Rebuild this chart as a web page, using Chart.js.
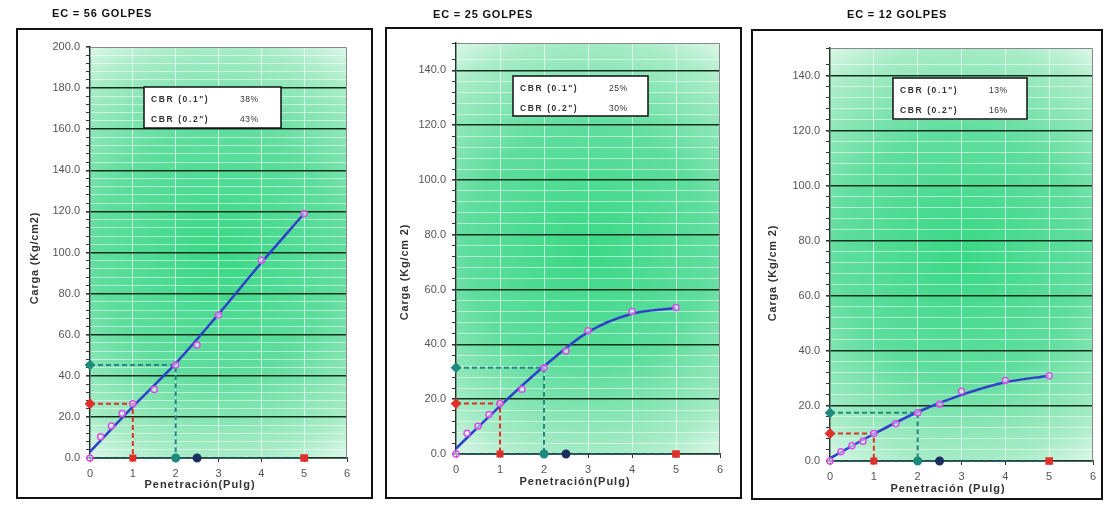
<!DOCTYPE html>
<html>
<head>
<meta charset="utf-8">
<script src="https://cdn.jsdelivr.net/npm/chart.js@4"></script>
<style>
    html, body { margin: 0; padding: 0; background: #fff; }
    #page { position: relative; width: 1104px; height: 506px; overflow: hidden; }
    #page canvas { position: absolute; left: 0; top: 0; }
</style>
</head>
<body>
<div id="page">
    <canvas id="c56" width="1104" height="506"></canvas>
    <canvas id="c25" width="1104" height="506"></canvas>
    <canvas id="c12" width="1104" height="506"></canvas>
</div>
<script>
// penetration readings (x 10 -> the axis shows tenths of an inch)
const penetration = [0, 0.25, 0.5, 0.75, 1, 1.5, 2, 2.5, 3, 4, 5];
const load56 = [0, 10.4, 15.6, 21.7, 26.4, 33.3, 45.3, 55.0, 69.6, 96.2, 119.0];
const load25 = [0, 7.6, 10.1, 14.4, 18.4, 23.6, 31.5, 37.6, 45.0, 52.0, 53.5];
const load12 = [0, 3.4, 5.5, 7.2, 10.0, 13.5, 17.5, 20.6, 25.3, 29.2, 31.0];

// trend line
const trendX = [0, 1, 2, 3, 4, 5];
const trend56 = [3, 25, 46, 70, 95, 119];
const trend25 = [2, 17.5, 32, 44.5, 51.2, 53.3];
const trend12 = [1, 9.8, 17.8, 24, 28.6, 31];

// CBR readings at 0.1" and 0.2"
const cbrPen = [1, 2];
const cbr01Load = [26.4, 18.4, 10.0];
const cbr02Load = [45.3, 31.5, 17.5];
const cbr01Text = ["38%", "25%", "13%"];
const cbr02Text = ["43%", "30%", "16%"];
const axisMarkX = [2.5, 5];

const panelTitles = ["EC = 56 GOLPES", "EC = 25 GOLPES", "EC = 12 GOLPES"];
const yTitles = ["Carga (Kg/cm2)", "Carga (Kg/cm 2)", "Carga (Kg/cm 2)"];
const xTitles = ["Penetración(Pulg)", "Penetración(Pulg)", "Penetración (Pulg)"];
const yMaxes = [200, 150, 150];
const xMax = 6;

// page layout, one entry per panel
const layouts = [
    { box: [17, 29, 355, 469], title: [52, 14], area: { l: 90, r: 347, t: 47, b: 458 },
      yTitle: [35, 258], xTitle: [200, 485], legend: [144, 87, 137, 41] },
    { box: [386, 28, 355, 470], title: [433, 15], area: { l: 456, r: 720, t: 43, b: 454 },
      yTitle: [405, 272], xTitle: [575, 482], legend: [513, 76, 135, 40] },
    { box: [752, 30, 350, 469], title: [847, 15], area: { l: 830, r: 1093, t: 48, b: 461 },
      yTitle: [773, 273], xTitle: [948, 489], legend: [893, 78, 134, 41] },
];

const FONT = "'Liberation Sans', Arial, sans-serif";

function pts(xs, ys) {
    return xs.map((x, i) => ({ x: x, y: ys[i] }));
}

const panelPlugin = {
    id: "panel",
    beforeDraw(chart) {
        const a = chart.chartArea;
        const ctx = chart.ctx;
        const cx = (a.left + a.right) / 2;
        const cy = (a.top + a.bottom) / 2;
        const rad = Math.hypot(a.right - a.left, a.bottom - a.top) / 2;
        const g = ctx.createRadialGradient(cx, cy, 0, cx, cy, rad);
        g.addColorStop(0, "#3ad886");
        g.addColorStop(0.5, "#5fdd9e");
        g.addColorStop(0.85, "#a8ecc7");
        g.addColorStop(1, "#dcf7e9");
        ctx.save();
        ctx.fillStyle = g;
        ctx.fillRect(a.left, a.top, a.right - a.left, a.bottom - a.top);
        ctx.restore();
    },
    beforeDatasetsDraw(chart) {
        const a = chart.chartArea;
        const ctx = chart.ctx;
        ctx.save();
        ctx.strokeStyle = "#8a8a8a";
        ctx.lineWidth = 1;
        ctx.beginPath();
        ctx.moveTo(a.left, a.top + 0.5);
        ctx.lineTo(a.right - 0.5, a.top + 0.5);
        ctx.lineTo(a.right - 0.5, a.bottom);
        ctx.stroke();
        ctx.restore();
    },
    afterDraw(chart, args, opts) {
        const L = layouts[opts.index];
        const ctx = chart.ctx;
        ctx.save();
        // outer frame
        ctx.strokeStyle = "#111";
        ctx.lineWidth = 2;
        ctx.strokeRect(L.box[0], L.box[1], L.box[2], L.box[3]);

        ctx.fillStyle = "#111";
        ctx.textBaseline = "middle";
        ctx.font = "bold 11px " + FONT;
        ctx.letterSpacing = "0.8px";
        ctx.textAlign = "left";
        ctx.fillText(panelTitles[opts.index], L.title[0], L.title[1]);

        ctx.font = "bold 11px " + FONT;
        ctx.letterSpacing = "1px";
        ctx.fillStyle = "#333";
        ctx.textAlign = "center";
        ctx.fillText(xTitles[opts.index], L.xTitle[0], L.xTitle[1]);
        ctx.save();
        ctx.translate(L.yTitle[0], L.yTitle[1]);
        ctx.rotate(-Math.PI / 2);
        ctx.letterSpacing = "0.8px";
        ctx.fillText(yTitles[opts.index], 0, 0);
        ctx.restore();

        // CBR box
        const [lx, ly, lw, lh] = L.legend;
        ctx.fillStyle = "#fff";
        ctx.fillRect(lx, ly, lw, lh);
        ctx.strokeStyle = "#111";
        ctx.lineWidth = 1.5;
        ctx.strokeRect(lx, ly, lw, lh);
        ctx.fillStyle = "#333";
        ctx.textAlign = "left";
        ctx.font = "bold 8.5px " + FONT;
        ctx.letterSpacing = "1.6px";
        ctx.fillText('CBR (0.1")', lx + 7, ly + 13);
        ctx.fillText('CBR (0.2")', lx + 7, ly + 33);
        ctx.font = "8.5px " + FONT;
        ctx.letterSpacing = "0.5px";
        ctx.fillText(cbr01Text[opts.index], lx + 96, ly + 13);
        ctx.fillText(cbr02Text[opts.index], lx + 96, ly + 33);
        ctx.restore();
    },
};

function makePanel(canvasId, index, loads, trend) {
    const L = layouts[index];
    const yMax = yMaxes[index];
    const v1 = cbr01Load[index];
    const v2 = cbr02Load[index];

    return new Chart(document.getElementById(canvasId), {
        type: "scatter",
        data: {
            datasets: [
                {
                    data: pts(penetration, loads),
                    showLine: false,
                    pointStyle: "circle",
                    pointRadius: 3,
                    pointBorderWidth: 1.5,
                    borderColor: "#d84ee8",
                    backgroundColor: "rgba(255,255,255,0.5)",
                    clip: false,
                },
                {
                    data: pts(trendX, trend),
                    showLine: true,
                    borderColor: "#3040c8",
                    borderWidth: 2.5,
                    pointRadius: 0,
                    cubicInterpolationMode: "monotone",
                },
                {
                    data: [{ x: 0, y: v1 }, { x: cbrPen[0], y: v1 }, { x: cbrPen[0], y: 0 }],
                    showLine: true,
                    borderColor: "#e0302a",
                    borderWidth: 2,
                    borderDash: [5, 3],
                    pointRadius: [4, 0, 3.5],
                    pointStyle: ["rectRot", "circle", "rect"],
                    backgroundColor: "#e0302a",
                    pointBorderColor: "#e0302a",
                    clip: false,
                },
                {
                    data: [{ x: 0, y: v2 }, { x: cbrPen[1], y: v2 }, { x: cbrPen[1], y: 0 }],
                    showLine: true,
                    borderColor: "#1f8a7e",
                    borderWidth: 2,
                    borderDash: [5, 3],
                    pointRadius: [4, 0, 3.5],
                    pointStyle: ["rectRot", "circle", "circle"],
                    backgroundColor: "#1f8a7e",
                    pointBorderColor: "#1f8a7e",
                    clip: false,
                },
                {
                    data: [{ x: 0, y: 0 }, { x: axisMarkX[0], y: 0 }, { x: axisMarkX[1], y: 0 }],
                    showLine: true,
                    borderColor: "#245a66",
                    borderWidth: 2,
                    borderDash: [6, 3],
                    pointRadius: [0, 3.5, 4],
                    pointStyle: ["circle", "circle", "rect"],
                    backgroundColor: ["#1b2f60", "#1b2f60", "#e0302a"],
                    pointBorderColor: ["#1b2f60", "#1b2f60", "#e0302a"],
                    clip: false,
                },
            ],
        },
        options: {
            responsive: false,
            animation: false,
            layout: { padding: { left: 0, top: L.area.t, right: 1104 - L.area.r, bottom: 0 } },
            plugins: {
                legend: { display: false },
                tooltip: { enabled: false },
                panel: { index: index },
            },
            scales: {
                x: {
                    type: "linear",
                    min: 0,
                    max: xMax,
                    afterFit: (s) => { s.height = 506 - L.area.b; },
                    ticks: {
                        stepSize: 1,
                        padding: 5,
                        color: "#555",
                        font: { family: FONT, size: 11 },
                        callback: (v) => String(v),
                    },
                    grid: {
                        color: "rgba(255,255,255,0.6)",
                        lineWidth: 1,
                        tickColor: "#333",
                        tickLength: 4,
                    },
                    border: { display: true, color: "#1b3a2a", width: 1.5 },
                },
                y: {
                    type: "linear",
                    min: 0,
                    max: yMax,
                    afterFit: (s) => { s.width = L.area.l; },
                    ticks: {
                        stepSize: 4,
                        autoSkip: false,
                        padding: 6,
                        color: "#555",
                        font: { family: FONT, size: 11 },
                        callback: (v) => (Math.abs(v % 20) < 1e-6 ? v.toFixed(1) : ""),
                    },
                    grid: {
                        color: (c) => {
                            const v = c.tick.value;
                            if (v >= yMax) return "rgba(0,0,0,0)";
                            return Math.abs(v % 20) < 1e-6 ? "#10301c" : "rgba(255,255,255,0.5)";
                        },
                        lineWidth: (c) => (Math.abs(c.tick.value % 20) < 1e-6 ? 1.6 : 1),
                        tickColor: "#333",
                        tickLength: 4,
                    },
                    border: { display: true, color: "#1b3a2a", width: 1.5 },
                },
            },
        },
        plugins: [panelPlugin],
    });
}

makePanel("c56", 0, load56, trend56);
makePanel("c25", 1, load25, trend25);
makePanel("c12", 2, load12, trend12);
</script>
</body>
</html>
